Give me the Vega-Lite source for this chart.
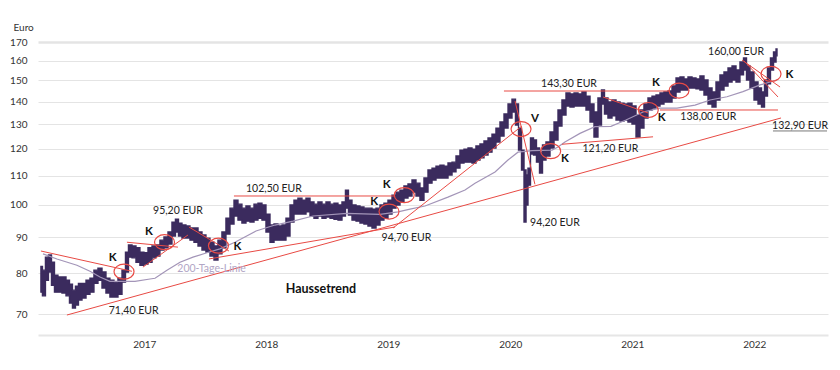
{
 "$schema": "https://vega.github.io/schema/vega-lite/v6.json",
 "width": 790, "height": 293,
 "autosize": {"type": "none"},
 "padding": {"left": 38, "top": 42, "right": 12, "bottom": 35},
 "background": "#ffffff",
 "config": {"view": {"stroke": null}, "font": "Lato"},
 "datasets": {
  "kurs": [
   {"t":2016.153,"wert":81.8,"l":75.2},{"t":2016.178,"wert":80.8,"l":74.3},{"t":2016.202,"wert":84.3,"l":78.2},{"t":2016.227,"wert":84.9,"l":80.3},{"t":2016.252,"wert":82.9,"l":76.9},{"t":2016.276,"wert":79.5,"l":75.2},{"t":2016.309,"wert":79.0,"l":75.2},{"t":2016.342,"wert":79.0,"l":75.0},{"t":2016.375,"wert":78.2,"l":74.3},{"t":2016.399,"wert":77.2,"l":72.6},{"t":2016.424,"wert":75.7,"l":71.4},{"t":2016.448,"wert":76.7,"l":72.1},{"t":2016.473,"wert":77.4,"l":73.3},{"t":2016.506,"wert":77.4,"l":73.8},{"t":2016.539,"wert":78.2,"l":74.7},{"t":2016.571,"wert":78.7,"l":75.2},{"t":2016.604,"wert":80.8,"l":77.4},{"t":2016.637,"wert":81.3,"l":78.2},{"t":2016.670,"wert":80.3,"l":76.2},{"t":2016.702,"wert":78.7,"l":75.0},{"t":2016.735,"wert":78.2,"l":74.0},{"t":2016.768,"wert":77.7,"l":74.0},{"t":2016.801,"wert":78.7,"l":74.7},{"t":2016.834,"wert":80.8,"l":77.7},{"t":2016.858,"wert":85.7,"l":80.3},{"t":2016.883,"wert":87.7,"l":84.3},{"t":2016.916,"wert":87.4,"l":84.1},{"t":2016.948,"wert":86.9,"l":82.9},{"t":2016.981,"wert":85.7,"l":82.1},{"t":2017.014,"wert":85.5,"l":82.4},{"t":2017.047,"wert":86.9,"l":82.9},{"t":2017.080,"wert":87.4,"l":84.1},{"t":2017.112,"wert":87.7,"l":84.6},{"t":2017.145,"wert":89.1,"l":86.3},{"t":2017.178,"wert":90.0,"l":86.9},{"t":2017.211,"wert":91.5,"l":88.0},{"t":2017.243,"wert":94.5,"l":90.3},{"t":2017.268,"wert":95.4,"l":91.5},{"t":2017.293,"wert":94.2,"l":90.3},{"t":2017.325,"wert":93.6,"l":89.7},{"t":2017.358,"wert":93.3,"l":89.7},{"t":2017.391,"wert":92.7,"l":89.1},{"t":2017.424,"wert":92.7,"l":88.5},{"t":2017.457,"wert":91.5,"l":87.4},{"t":2017.489,"wert":90.6,"l":86.3},{"t":2017.522,"wert":89.7,"l":85.7},{"t":2017.555,"wert":88.5,"l":84.6},{"t":2017.588,"wert":87.4,"l":83.5},{"t":2017.620,"wert":89.1,"l":85.2},{"t":2017.653,"wert":91.5,"l":86.9},{"t":2017.686,"wert":95.7,"l":90.9},{"t":2017.719,"wert":98.9,"l":93.9},{"t":2017.752,"wert":101.5,"l":96.4},{"t":2017.784,"wert":100.2,"l":95.1},{"t":2017.817,"wert":98.9,"l":94.2},{"t":2017.850,"wert":99.6,"l":94.8},{"t":2017.883,"wert":98.9,"l":94.5},{"t":2017.916,"wert":100.2,"l":95.1},{"t":2017.948,"wert":100.5,"l":95.7},{"t":2017.981,"wert":99.9,"l":95.1},{"t":2018.014,"wert":97.0,"l":91.5},{"t":2018.047,"wert":93.6,"l":88.5},{"t":2018.080,"wert":93.9,"l":89.1},{"t":2018.112,"wert":93.3,"l":89.1},{"t":2018.145,"wert":93.6,"l":89.1},{"t":2018.178,"wert":95.7,"l":90.3},{"t":2018.211,"wert":99.9,"l":94.5},{"t":2018.243,"wert":101.5,"l":97.0},{"t":2018.276,"wert":102.2,"l":97.0},{"t":2018.309,"wert":101.5,"l":97.0},{"t":2018.342,"wert":102.2,"l":97.7},{"t":2018.375,"wert":100.9,"l":96.4},{"t":2018.407,"wert":100.2,"l":95.7},{"t":2018.440,"wert":100.9,"l":96.4},{"t":2018.473,"wert":100.2,"l":95.7},{"t":2018.506,"wert":100.9,"l":96.1},{"t":2018.539,"wert":100.2,"l":95.7},{"t":2018.571,"wert":100.5,"l":95.4},{"t":2018.604,"wert":99.9,"l":95.1},{"t":2018.637,"wert":100.9,"l":96.4},{"t":2018.661,"wert":104.9,"l":98.9},{"t":2018.686,"wert":101.5,"l":96.7},{"t":2018.719,"wert":99.9,"l":95.1},{"t":2018.752,"wert":99.6,"l":94.8},{"t":2018.784,"wert":99.3,"l":94.2},{"t":2018.817,"wert":98.9,"l":93.9},{"t":2018.850,"wert":98.9,"l":93.3},{"t":2018.883,"wert":98.6,"l":92.7},{"t":2018.916,"wert":98.9,"l":93.6},{"t":2018.948,"wert":99.9,"l":95.1},{"t":2018.981,"wert":100.5,"l":95.7},{"t":2019.014,"wert":101.5,"l":97.0},{"t":2019.047,"wert":103.2,"l":98.9},{"t":2019.080,"wert":104.2,"l":99.9},{"t":2019.112,"wert":104.9,"l":100.9},{"t":2019.145,"wert":106.3,"l":102.2},{"t":2019.178,"wert":107.0,"l":102.9},{"t":2019.211,"wert":108.4,"l":104.2},{"t":2019.243,"wert":107.3,"l":102.9},{"t":2019.276,"wert":105.6,"l":101.5},{"t":2019.309,"wert":109.1,"l":104.2},{"t":2019.342,"wert":112.0,"l":107.3},{"t":2019.375,"wert":112.7,"l":108.4},{"t":2019.407,"wert":113.4,"l":109.1},{"t":2019.440,"wert":113.8,"l":109.1},{"t":2019.473,"wert":113.4,"l":109.1},{"t":2019.506,"wert":114.6,"l":110.2},{"t":2019.539,"wert":114.9,"l":111.3},{"t":2019.571,"wert":117.2,"l":112.7},{"t":2019.604,"wert":119.5,"l":114.6},{"t":2019.637,"wert":119.9,"l":114.9},{"t":2019.670,"wert":120.3,"l":114.9},{"t":2019.702,"wert":119.9,"l":114.6},{"t":2019.735,"wert":121.1,"l":115.7},{"t":2019.768,"wert":121.9,"l":116.5},{"t":2019.801,"wert":123.1,"l":117.6},{"t":2019.834,"wert":124.3,"l":118.7},{"t":2019.866,"wert":125.9,"l":120.3},{"t":2019.899,"wert":128.4,"l":122.7},{"t":2019.932,"wert":131.0,"l":125.1},{"t":2019.965,"wert":134.4,"l":128.4},{"t":2019.998,"wert":138.9,"l":132.7},{"t":2020.030,"wert":141.1,"l":135.3},{"t":2020.055,"wert":138.9,"l":129.7},{"t":2020.080,"wert":128.4,"l":119.5},{"t":2020.104,"wert":119.5,"l":112.0},{"t":2020.121,"wert":112.0,"l":94.5},{"t":2020.137,"wert":110.2,"l":99.9},{"t":2020.153,"wert":112.7,"l":106.6},{"t":2020.178,"wert":124.3,"l":118.0},{"t":2020.202,"wert":123.5,"l":117.6},{"t":2020.227,"wert":120.3,"l":114.9},{"t":2020.252,"wert":118.7,"l":110.9},{"t":2020.276,"wert":121.5,"l":115.7},{"t":2020.309,"wert":122.7,"l":117.2},{"t":2020.342,"wert":126.8,"l":120.3},{"t":2020.375,"wert":131.0,"l":123.5},{"t":2020.407,"wert":136.2,"l":129.3},{"t":2020.440,"wert":140.7,"l":134.0},{"t":2020.473,"wert":144.0,"l":138.0},{"t":2020.506,"wert":143.5,"l":137.5},{"t":2020.539,"wert":144.0,"l":138.0},{"t":2020.571,"wert":143.5,"l":138.0},{"t":2020.604,"wert":144.4,"l":138.0},{"t":2020.637,"wert":142.5,"l":136.2},{"t":2020.670,"wert":138.9,"l":131.0},{"t":2020.702,"wert":135.3,"l":124.7},{"t":2020.735,"wert":141.6,"l":129.7},{"t":2020.760,"wert":145.4,"l":138.9},{"t":2020.784,"wert":141.6,"l":134.4},{"t":2020.817,"wert":139.8,"l":132.7},{"t":2020.850,"wert":140.7,"l":133.6},{"t":2020.883,"wert":139.8,"l":131.8},{"t":2020.916,"wert":139.3,"l":131.4},{"t":2020.948,"wert":138.9,"l":131.8},{"t":2020.981,"wert":139.3,"l":131.0},{"t":2021.014,"wert":138.0,"l":130.1},{"t":2021.047,"wert":134.0,"l":124.7},{"t":2021.079,"wert":136.2,"l":128.4},{"t":2021.112,"wert":138.9,"l":132.7},{"t":2021.145,"wert":141.6,"l":136.2},{"t":2021.178,"wert":142.5,"l":137.1},{"t":2021.211,"wert":143.0,"l":138.0},{"t":2021.243,"wert":144.0,"l":138.9},{"t":2021.276,"wert":144.4,"l":139.8},{"t":2021.309,"wert":144.9,"l":139.8},{"t":2021.342,"wert":147.3,"l":141.6},{"t":2021.375,"wert":151.2,"l":144.4},{"t":2021.407,"wert":151.7,"l":145.4},{"t":2021.440,"wert":150.7,"l":145.4},{"t":2021.473,"wert":151.7,"l":146.3},{"t":2021.506,"wert":151.2,"l":146.3},{"t":2021.538,"wert":150.7,"l":145.9},{"t":2021.571,"wert":152.2,"l":145.4},{"t":2021.604,"wert":150.2,"l":143.0},{"t":2021.637,"wert":146.3,"l":138.9},{"t":2021.670,"wert":144.4,"l":137.5},{"t":2021.702,"wert":149.2,"l":140.7},{"t":2021.735,"wert":152.7,"l":145.4},{"t":2021.768,"wert":154.2,"l":147.3},{"t":2021.801,"wert":156.2,"l":149.2},{"t":2021.834,"wert":157.2,"l":150.2},{"t":2021.866,"wert":155.2,"l":149.2},{"t":2021.899,"wert":159.3,"l":152.7},{"t":2021.924,"wert":161.4,"l":155.2},{"t":2021.948,"wert":157.2,"l":150.2},{"t":2021.981,"wert":154.2,"l":146.3},{"t":2022.014,"wert":149.2,"l":140.7},{"t":2022.047,"wert":146.3,"l":138.9},{"t":2022.071,"wert":144.4,"l":137.5},{"t":2022.096,"wert":150.2,"l":142.5},{"t":2022.120,"wert":156.2,"l":148.3},{"t":2022.145,"wert":161.4,"l":155.2},{"t":2022.170,"wert":164.6,"l":159.3},{"t":2022.186,"wert":166.2,"l":162.5}
  ],
  "gd200": [
   {"t":2016.170,"wert":85.2},{"t":2016.284,"wert":83.8},{"t":2016.448,"wert":82.1},{"t":2016.555,"wert":80.5},{"t":2016.637,"wert":79.0},{"t":2016.719,"wert":77.9},{"t":2016.817,"wert":77.9},{"t":2016.924,"wert":77.9},{"t":2017.047,"wert":78.5},{"t":2017.088,"wert":78.7},{"t":2017.186,"wert":80.8},{"t":2017.293,"wert":82.9},{"t":2017.399,"wert":84.3},{"t":2017.514,"wert":85.5},{"t":2017.620,"wert":86.6},{"t":2017.743,"wert":88.5},{"t":2017.916,"wert":91.8},{"t":2018.071,"wert":93.6},{"t":2018.219,"wert":94.8},{"t":2018.383,"wert":96.4},{"t":2018.661,"wert":97.2},{"t":2018.932,"wert":96.9},{"t":2019.080,"wert":97.7},{"t":2019.178,"wert":98.6},{"t":2019.301,"wert":99.6},{"t":2019.489,"wert":102.5},{"t":2019.629,"wert":104.9},{"t":2019.711,"wert":107.3},{"t":2019.875,"wert":111.3},{"t":2019.981,"wert":115.7},{"t":2020.063,"wert":118.7},{"t":2020.178,"wert":119.3},{"t":2020.342,"wert":119.5},{"t":2020.391,"wert":120.7},{"t":2020.448,"wert":122.7},{"t":2020.571,"wert":126.2},{"t":2020.694,"wert":129.0},{"t":2020.825,"wert":129.1},{"t":2020.948,"wert":131.8},{"t":2021.088,"wert":135.3},{"t":2021.227,"wert":137.0},{"t":2021.366,"wert":137.0},{"t":2021.514,"wert":138.4},{"t":2021.637,"wert":140.7},{"t":2021.776,"wert":142.2},{"t":2021.907,"wert":144.6},{"t":2022.047,"wert":147.8},{"t":2022.186,"wert":150.2}
  ],
  "linien": [
   {"id":"L1","t":2016.366,"wert":69.8},{"id":"L1","t":2022.219,"wert":132.7},
   {"id":"L2","t":2017.530,"wert":83.8},{"id":"L2","t":2019.055,"wert":93.0},
   {"id":"L3","t":2019.039,"wert":92.7},{"id":"L3","t":2020.096,"wert":129.3},
   {"id":"L4","t":2016.153,"wert":86.0},{"id":"L4","t":2016.899,"wert":80.5},
   {"id":"L5","t":2016.858,"wert":88.5},{"id":"L5","t":2017.276,"wert":87.1},
   {"id":"L6","t":2016.989,"wert":81.6},{"id":"L6","t":2017.358,"wert":90.6},
   {"id":"L7","t":2017.366,"wert":93.0},{"id":"L7","t":2017.694,"wert":86.0},
   {"id":"L8","t":2017.735,"wert":102.9},{"id":"L8","t":2019.055,"wert":102.9},
   {"id":"L9","t":2020.039,"wert":140.2},{"id":"L9","t":2020.202,"wert":106.9},
   {"id":"L10","t":2019.948,"wert":144.9},{"id":"L10","t":2021.309,"wert":144.9},
   {"id":"L11","t":2020.760,"wert":142.1},{"id":"L11","t":2021.129,"wert":134.9},
   {"id":"L12","t":2020.424,"wert":121.8},{"id":"L12","t":2021.170,"wert":124.8},
   {"id":"L13","t":2021.227,"wert":136.2},{"id":"L13","t":2022.194,"wert":136.2},
   {"id":"L14","t":2021.899,"wert":160.3},{"id":"L14","t":2022.211,"wert":146.8},
   {"id":"L15","t":2021.916,"wert":159.8},{"id":"L15","t":2022.194,"wert":142.1}
  ],
  "kreise": [
   {"t":2016.834,"wert":80.4},{"t":2017.166,"wert":88.5},{"t":2017.608,"wert":87.5},{"t":2019.006,"wert":97.8},{"t":2019.131,"wert":103.2},{"t":2020.088,"wert":128.0},{"t":2020.331,"wert":119.1},{"t":2021.131,"wert":136.2},{"t":2021.383,"wert":145.1},{"t":2022.137,"wert":153.2}
  ],
  "k": [
   {"t":2016.741,"wert":84.0,"text":"K"},{"t":2017.039,"wert":91.4,"text":"K"},{"t":2017.764,"wert":87.1,"text":"K"},{"t":2018.885,"wert":101.0,"text":"K"},{"t":2018.987,"wert":106.6,"text":"K"},{"t":2020.202,"wert":132.1,"text":"V"},{"t":2020.448,"wert":116.1,"text":"K"},{"t":2021.194,"wert":148.9,"text":"K"},{"t":2021.241,"wert":132.5,"text":"K"},{"t":2022.287,"wert":152.7,"text":"K"}
  ],
  "preise": [
   {"t":2016.913,"wert":70.8,"text":"71,40 EUR"},{"t":2017.276,"wert":98.1,"text":"95,20 EUR"},{"t":2018.063,"wert":105.3,"text":"102,50 EUR"},{"t":2019.149,"wert":89.8,"text":"94,70 EUR"},{"t":2020.366,"wert":94.3,"text":"94,20 EUR"},{"t":2020.481,"wert":148.3,"text":"143,30 EUR"},{"t":2020.821,"wert":119.9,"text":"121,20 EUR"},{"t":2021.623,"wert":133.3,"text":"138,00 EUR"},{"t":2021.850,"wert":164.8,"text":"160,00 EUR"},{"t":2022.375,"wert":129.3,"text":"132,90 EUR"}
  ],
  "unterstrich": [{"t":2022.153,"wert":127.2},{"t":2022.596,"wert":127.2}],
  "trend": [{"t":2018.448,"wert":76.1,"text":"Haussetrend"}],
  "gdtext": [{"t":2017.551,"wert":81.0,"text":"200-Tage-Linie"}]
 },
 "encoding": {
  "x": {"field": "t", "type": "quantitative",
   "scale": {"domain": [2016.129, 2022.604], "nice": false, "zero": false},
   "axis": {"values": [2017, 2018, 2019, 2020, 2021, 2022], "format": "d", "grid": false, "ticks": false,
    "domain": true, "domainColor": "#e6e6e6", "domainWidth": 2, "labelFont": "Lato", "labelFontSize": 10,
    "labelColor": "#333333", "labelPadding": 4, "title": null}},
  "y": {"field": "wert", "type": "quantitative",
   "scale": {"type": "log", "domain": [65.4, 170], "nice": false},
   "axis": {"values": [70, 80, 90, 100, 110, 120, 130, 140, 150, 160, 170], "format": "d", "grid": true,
    "gridColor": "#e4e4e4", "gridWidth": {"condition": {"test": "datum.value === 170", "value": 2.5}, "value": 1},
    "ticks": false, "domain": false, "labelFont": "Lato", "labelFontSize": 10, "labelColor": "#333333",
    "labelPadding": 11, "title": "Euro", "titleAngle": 0, "titleAlign": "left", "titleBaseline": "middle",
    "titleX": -25, "titleY": -15, "titleFont": "Lato", "titleFontSize": 10, "titleFontWeight": "normal",
    "titleColor": "#333333"}}
 },
 "layer": [
  {"data": {"name": "kurs"},
   "mark": {"type": "area", "interpolate": "step", "color": "#3b2b5e", "stroke": "#3b2b5e", "strokeWidth": 1.4, "opacity": 1},
   "encoding": {"y2": {"field": "l"}}},
  {"data": {"name": "gd200"},
   "mark": {"type": "line", "color": "#a395b8", "strokeWidth": 1.2},
   "encoding": {}},
  {"data": {"name": "linien"},
   "mark": {"type": "line", "color": "#e84a44", "strokeWidth": 1},
   "encoding": {"detail": {"field": "id"}}},
  {"data": {"name": "unterstrich"},
   "mark": {"type": "line", "color": "#555555", "strokeWidth": 0.8},
   "encoding": {}},
  {"data": {"name": "kreise"},
   "mark": {"type": "point", "shape": "M -1 0 A 1 0.75 0 1 0 1 0 A 1 0.75 0 1 0 -1 0 Z", "size": 400,
    "filled": false, "color": "#e84a44", "strokeWidth": 1.2, "opacity": 1}},
  {"data": {"name": "k"},
   "mark": {"type": "text", "font": "Lato", "fontSize": 11.5, "fontWeight": "bold", "color": "#111111", "align": "center", "baseline": "middle"},
   "encoding": {"text": {"field": "text"}}},
  {"data": {"name": "preise"},
   "mark": {"type": "text", "font": "Lato", "fontSize": 10.5, "color": "#222222", "align": "center", "baseline": "middle"},
   "encoding": {"text": {"field": "text"}}},
  {"data": {"name": "trend"},
   "mark": {"type": "text", "font": "Lato", "fontSize": 12.5, "fontWeight": "bold", "color": "#111111", "align": "center", "baseline": "middle"},
   "encoding": {"text": {"field": "text"}}},
  {"data": {"name": "gdtext"},
   "mark": {"type": "text", "font": "Lato", "fontSize": 10.5, "color": "#b2a6c6", "align": "center", "baseline": "middle"},
   "encoding": {"text": {"field": "text"}}}
 ]
}
